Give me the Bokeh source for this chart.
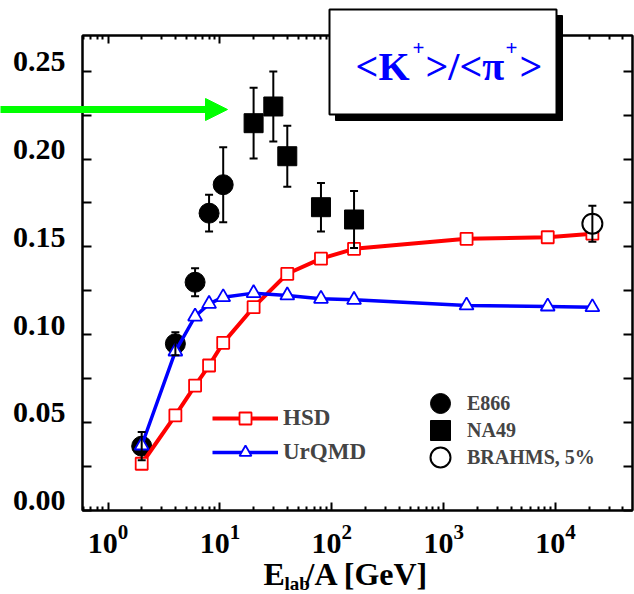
import math
from bokeh.plotting import figure
from bokeh.models import (Range1d, FixedTicker, LogAxis, LinearAxis, Whisker, TeeHead,
                          ColumnDataSource, Legend, LegendItem, NumeralTickFormatter)
from bokeh.core.properties import value
from bokeh.embed import file_html
from bokeh.resources import INLINE

# ---------------- data ----------------
e866_x = [2, 4, 6, 8, 10.7]
e866_y = [0.0366, 0.0949, 0.1299, 0.1692, 0.1854]
e866_err = [0.0080, 0.0066, 0.0080, 0.0105, 0.0213]

na49_x = [20, 30, 40, 80, 158]
na49_y = [0.2204, 0.2299, 0.2016, 0.1726, 0.1656]
na49_err = [0.0201, 0.0199, 0.0174, 0.0138, 0.0162]

brahms_x = [21300]
brahms_y = [0.1632]
brahms_err = [0.0102]

model_x = [2, 4, 6, 8, 10.7, 20, 40, 80, 158, 1600, 8500, 21300]
hsd_y = [0.0266, 0.0541, 0.0711, 0.0825, 0.0954, 0.1157, 0.1347, 0.1433, 0.1489, 0.1546, 0.1555, 0.1575]
urqmd_y = [0.0370, 0.0905, 0.1104, 0.1176, 0.1214, 0.1237, 0.1224, 0.1205, 0.1199, 0.1167, 0.1161, 0.1157]

y_ticks = [0.0, 0.05, 0.10, 0.15, 0.20, 0.25]
y_minor = [0.025, 0.075, 0.125, 0.175, 0.225]
x_ticks = [1, 10, 100, 1000, 10000]
x_minor = [m * d for d in [0.1, 1, 10, 100, 1000, 10000] for m in range(2, 10)]

title_parts = ["<", "K", "+", ">/<π", "+", ">"]
xtitle_parts = ["E", "lab", "/A [GeV]"]

FONT = "Liberation Serif"
X0, X1 = 0.5916, 48640
Y0, Y1 = 0.0, 0.2703
FL, FR, FT, FB = 82, 632, 35, 510   # frame edges on the page

def dx(px):  # page pixel -> data x (for decorations)
    a, b = math.log10(X0), math.log10(X1)
    return 10 ** (a + (px - FL) / (FR - FL) * (b - a))

def dy(py):
    return Y0 + (FB - py) / (FB - FT) * (Y1 - Y0)

p = figure(width=634, height=594, x_axis_type="log",
           x_range=Range1d(X0, X1), y_range=Range1d(Y0, Y1),
           output_backend="svg", toolbar_location=None,
           min_border_left=82, min_border_right=2, min_border_top=35, min_border_bottom=84)
p.grid.visible = False
p.outline_line_color = "black"
p.outline_line_width = 2
p.background_fill_color = "white"
p.border_fill_color = "white"

xt = FixedTicker(ticks=x_ticks, minor_ticks=x_minor)
yt = FixedTicker(ticks=y_ticks, minor_ticks=y_minor)

def style_axis(ax, ticker, maj, mnr, show_labels):
    ax.ticker = ticker
    ax.axis_line_width = 2
    ax.axis_line_color = "black"
    ax.major_tick_line_width = 2
    ax.minor_tick_line_width = 2
    ax.major_tick_in = maj
    ax.major_tick_out = 0
    ax.minor_tick_in = mnr
    ax.minor_tick_out = 0
    if not show_labels:
        ax.major_label_overrides = {t: "" for t in ticker.ticks}
        ax.major_label_text_font_size = "1px"
        ax.major_label_standoff = 0

style_axis(p.xaxis[0], xt, 8, 4, True)
p.xaxis[0].major_label_text_font = FONT
p.xaxis[0].major_label_text_font_style = "bold"
p.xaxis[0].major_label_text_font_size = "30px"
p.xaxis[0].major_label_text_color = "black"
p.xaxis[0].major_label_standoff = 14
style_axis(p.yaxis[0], yt, 9, 9, False)

top = LogAxis()
style_axis(top, xt, 8, 4, False)
p.add_layout(top, "above")
right = LinearAxis()
style_axis(right, yt, 9, 9, False)
p.add_layout(right, "right")

# y tick labels: an axis on a slightly shifted range so labels sit on the tick
shift = 0.0055
p.extra_y_ranges = {"lab": Range1d(Y0 - shift, Y1 - shift)}
lab_axis = LinearAxis(y_range_name="lab", ticker=FixedTicker(ticks=y_ticks),
                      formatter=NumeralTickFormatter(format="0.00"),
                      axis_line_alpha=0, major_tick_in=0, major_tick_out=0,
                      minor_tick_in=0, minor_tick_out=0, major_label_standoff=17,
                      major_label_text_font=FONT, major_label_text_font_style="bold",
                      major_label_text_font_size="30px", major_label_text_color="black")
p.add_layout(lab_axis, "left")

def whisker(xs, ys, errs):
    src = ColumnDataSource(dict(x=xs, upper=[a + b for a, b in zip(ys, errs)],
                                lower=[a - b for a, b in zip(ys, errs)]))
    w = Whisker(base="x", upper="upper", lower="lower", source=src,
                line_width=2, line_color="black", level="glyph",
                upper_head=TeeHead(size=8, line_width=2, line_color="black"),
                lower_head=TeeHead(size=8, line_width=2, line_color="black"))
    p.add_layout(w)

whisker(e866_x, e866_y, e866_err)
e866_r = p.scatter(e866_x, e866_y, marker="circle", size=20, fill_color="black", line_color="black")

hsd_line = p.line(model_x, hsd_y, line_color="#ff0000", line_width=4)
hsd_pts = p.scatter(model_x, hsd_y, marker="square", size=12, fill_color="white",
                    line_color="#ff0000", line_width=1.8)
urq_line = p.line(model_x, urqmd_y, line_color="#0000ff", line_width=3.5)
urq_pts = p.scatter(model_x, urqmd_y, marker="triangle", size=14, fill_color="white",
                    line_color="#0000ff", line_width=1.8)

whisker(na49_x, na49_y, na49_err)
na49_r = p.scatter(na49_x, na49_y, marker="square", size=19, fill_color="black", line_color="black")
whisker(brahms_x, brahms_y, brahms_err)
brahms_r = p.scatter(brahms_x, brahms_y, marker="circle", size=20, fill_color="white",
                     line_color="black", line_width=2)

def legend(items, loc, gw, gh, spacing, standoff, fsize):
    lg = Legend(items=items, location=loc, glyph_width=gw, glyph_height=gh, spacing=spacing,
                padding=0, margin=0, label_standoff=standoff,
                label_text_font=FONT, label_text_font_style="bold", label_text_font_size=fsize,
                background_fill_alpha=0, border_line_alpha=0)
    p.add_layout(lg)

legend([LegendItem(label="HSD", renderers=[hsd_line, hsd_pts]),
        LegendItem(label="UrQMD", renderers=[urq_line, urq_pts])],
       (130, 43), 66, 30, 4, 5, "23px")
legend([LegendItem(label="E866", renderers=[e866_r])], (333, 82), 50, 50, 0, 2, "20px")
legend([LegendItem(label="NA49", renderers=[na49_r])], (333, 55), 50, 50, 0, 2, "20px")
legend([LegendItem(label="BRAHMS, 5%", renderers=[brahms_r])], (333, 28), 50, 50, 0, 2, "20px")

# ---- decorations drawn above everything (title box, arrow, axis title) ----
p.quad(left=[dx(335)], right=[dx(562)], top=[dy(15)], bottom=[dy(120)],
       fill_color="black", line_color="black", level="overlay")
p.quad(left=[dx(329)], right=[dx(556)], top=[dy(9)], bottom=[dy(114)],
       fill_color="white", line_color="black", line_width=2, level="overlay")

def txt(t, px, base, size_px, color, bold=True):
    # base = wanted baseline on the page; renderer places the em-centre at y
    py = base - 0.3375 * size_px
    p.text(x=[dx(px)], y=[dy(py)], text=[t], text_font=value(FONT),
           text_font_size=value(f"{size_px}px"), text_font_style="bold" if bold else "normal",
           text_color=color, text_baseline="alphabetic", text_align="left", level="overlay")

blue = "#0000ff"
txt(title_parts[0], 355, 79, 40, blue)
txt(title_parts[1], 378, 79, 40, blue)
txt(title_parts[2], 412, 55, 21, blue)
txt(title_parts[3], 425, 79, 40, blue)
txt(title_parts[4], 505, 55, 21, blue)
txt(title_parts[5], 519, 79, 40, blue)

txt(xtitle_parts[0], 263, 584, 32, "black")
txt(xtitle_parts[1], 284, 589, 19, "black")
txt(xtitle_parts[2], 305, 584, 32, "black")

green = "#00ff00"
p.segment(x0=[dx(0)], y0=[dy(109)], x1=[dx(207)], y1=[dy(109)], line_color=green,
          line_width=7, level="overlay")
p.patch(x=[dx(205), dx(227), dx(205)], y=[dy(98), dy(109), dy(120)],
        fill_color=green, line_color=green, line_width=1, level="overlay")

open("out.html", "w").write(file_html(p, INLINE))
